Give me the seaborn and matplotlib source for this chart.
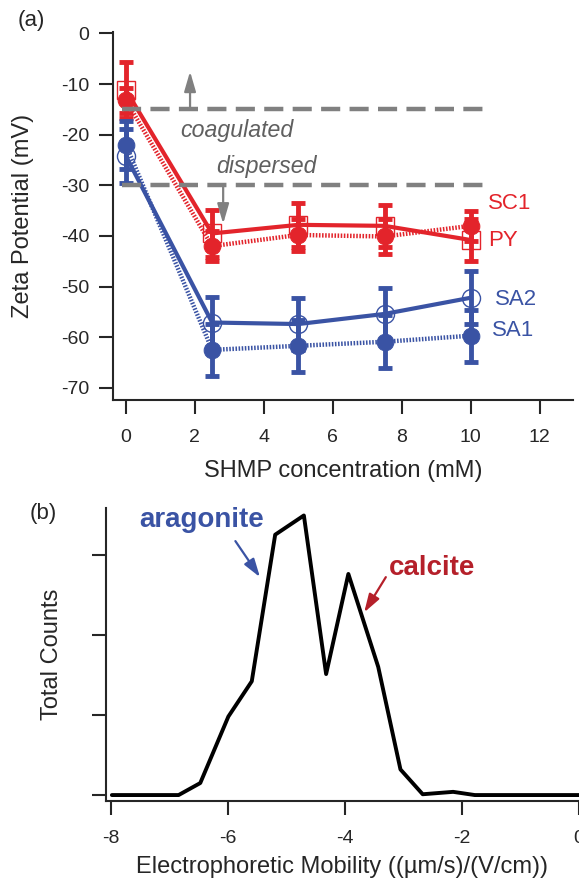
import matplotlib
matplotlib.use("Agg")
import matplotlib.pyplot as plt
import seaborn as sns

# ---------------------------------------------------------------------------
# Data
# ---------------------------------------------------------------------------
shmp_mM = [0, 2.5, 5, 7.5, 10]

sc1 = [-13.2, -42.0, -39.8, -40.1, -38.0]
sc1_err = [2.5, 2.9, 3.2, 3.5, 2.9]
py = [-11.2, -39.5, -37.8, -38.0, -40.8]
py_err = [5.5, 4.6, 4.4, 4.2, 4.1]
sa2 = [-24.2, -57.1, -57.4, -55.4, -52.2]
sa2_err = [5.3, 5.1, 5.1, 5.1, 5.2]
sa1 = [-22.0, -62.5, -61.7, -60.9, -59.7]
sa1_err = [4.8, 5.1, 5.1, 5.2, 5.1]

thresholds = [-15, -30]

mobility = [-7.98, -6.84, -6.47, -5.99, -5.59, -5.19, -4.70, -4.32,
            -3.94, -3.43, -3.05, -2.67, -2.15, -1.78, 0.0]
counts = [0.0, 0.0, 0.15, 0.98, 1.42, 3.25, 3.49, 1.51,
          2.76, 1.60, 0.32, 0.01, 0.04, 0.0, 0.0]

RED = "#e3242b"
BLUE = "#3a53a4"
GRAY = "#808080"
DARKRED = "#b5202a"

sns.set_style("ticks")
plt.rcParams["font.family"] = ["Liberation Sans", "DejaVu Sans"]
plt.rcParams["axes.linewidth"] = 1.5
plt.rcParams["axes.unicode_minus"] = False

fig = plt.figure(figsize=(5.79, 8.81), dpi=100)
fig.patch.set_facecolor("white")

# ---------------------------------------------------------------------------
# (a) zeta potential
# ---------------------------------------------------------------------------
ax = fig.add_axes([0.195, 0.546, 0.795, 0.4177])

eb = dict(fmt="none", elinewidth=3.5, capsize=5, capthick=3.5, zorder=2)
ax.errorbar(shmp_mM, py, yerr=py_err, ecolor=RED, **eb)
ax.errorbar(shmp_mM, sc1, yerr=sc1_err, ecolor=RED, **eb)
ax.errorbar(shmp_mM, sa2, yerr=sa2_err, ecolor=BLUE, **eb)
ax.errorbar(shmp_mM, sa1, yerr=sa1_err, ecolor=BLUE, **eb)

dotted = (0, (0.35, 0.35))
sns.lineplot(x=shmp_mM, y=py, color=RED, lw=3, marker="s", markersize=13,
             markerfacecolor="none", markeredgecolor=RED, markeredgewidth=1,
             ax=ax, zorder=3)
sns.lineplot(x=shmp_mM, y=sc1, color=RED, lw=3.2, linestyle=dotted, marker="o",
             markersize=12, markerfacecolor=RED, markeredgecolor=RED, ax=ax, zorder=3)
sns.lineplot(x=shmp_mM, y=sa2, color=BLUE, lw=3, marker="o", markersize=13,
             markerfacecolor="none", markeredgecolor=BLUE, markeredgewidth=1,
             ax=ax, zorder=3)
sns.lineplot(x=shmp_mM, y=sa1, color=BLUE, lw=3.2, linestyle=dotted, marker="o",
             markersize=12, markerfacecolor=BLUE, markeredgecolor=BLUE, ax=ax, zorder=3)

for yv in thresholds:
    ax.plot([-0.12, 10.47], [yv, yv], color=GRAY, lw=3.2,
            linestyle=(0, (4.3, 2.1)), zorder=5)

arrow = dict(arrowstyle="-|>,head_width=0.35,head_length=1.2", color=GRAY,
             lw=1.6, shrinkA=0, shrinkB=0)
ax.annotate("", xy=(1.86, -7.5), xytext=(1.86, -15), arrowprops=arrow, zorder=5)
ax.annotate("", xy=(2.82, -37.6), xytext=(2.82, -30), arrowprops=arrow, zorder=5)

ax.text(1.57, -19.2, "coagulated", style="italic", color="#606060",
        fontsize=16.7, va="center", ha="left")
ax.text(2.63, -26.2, "dispersed", style="italic", color="#606060",
        fontsize=16.7, va="center", ha="left")

ax.text(10.5, -33.6, "SC1", color=RED, fontsize=16, va="center")
ax.text(10.5, -40.8, "PY", color=RED, fontsize=16, va="center")
ax.text(10.7, -52.6, "SA2", color=BLUE, fontsize=16, va="center")
ax.text(10.6, -58.6, "SA1", color=BLUE, fontsize=16, va="center")

ax.set_xlim(-0.377, 12.97)
ax.set_ylim(-72.4, 0.3)
ax.set_xticks([0, 2, 4, 6, 8, 10, 12])
ax.set_yticks([0, -10, -20, -30, -40, -50, -60, -70])
ax.set_xlabel("SHMP concentration (mM)", fontsize=17, va="top")
ax.set_ylabel("Zeta Potential (mV)", fontsize=17)
ax.xaxis.set_label_coords(0.5, -0.162)
ax.yaxis.set_label_coords(-0.172, 0.5)
ax.tick_params(direction="out", length=10, width=1.5, labelsize=14)
ax.tick_params(axis="x", pad=11)
ax.tick_params(axis="y", pad=7)
sns.despine(ax=ax)
fig.text(0.031, 0.977, "(a)", fontsize=16, va="center")

# ---------------------------------------------------------------------------
# (b) electrophoretic mobility distribution
# ---------------------------------------------------------------------------
bx = fig.add_axes([0.1826, 0.0911, 0.8174, 0.332])
sns.lineplot(x=mobility, y=counts, color="black", lw=2.8, ax=bx)

bx.text(-7.52, 3.43, "aragonite", color=BLUE, fontsize=20,
        fontweight="bold", va="center", ha="left")
bx.annotate("", xy=(-5.45, 2.72), xytext=(-5.87, 3.17),
            arrowprops=dict(arrowstyle="-|>,head_width=0.35,head_length=1.1",
                            color=BLUE, lw=1.6, shrinkA=0, shrinkB=0))
bx.text(-3.24, 2.83, "calcite", color=DARKRED, fontsize=20,
        fontweight="bold", va="center", ha="left")
bx.annotate("", xy=(-3.67, 2.28), xytext=(-3.30, 2.72),
            arrowprops=dict(arrowstyle="-|>,head_width=0.35,head_length=1.1",
                            color=DARKRED, lw=1.6, shrinkA=0, shrinkB=0))

bx.set_xlim(-8.085, 0.0)
bx.set_ylim(-0.071, 3.58)
bx.set_xticks([-8, -6, -4, -2, 0])
bx.set_yticks([0, 1, 2, 3])
bx.set_yticklabels([])
bx.set_xlabel("Electrophoretic Mobility ((µm/s)/(V/cm))", fontsize=17, va="top")
bx.set_ylabel("Total Counts", fontsize=17)
bx.xaxis.set_label_coords(0.5, -0.19)
bx.yaxis.set_label_coords(-0.090, 0.5)
bx.tick_params(direction="out", length=10, width=1.5, labelsize=14)
bx.tick_params(axis="x", pad=11)
sns.despine(ax=bx)
fig.text(0.052, 0.4177, "(b)", fontsize=16, va="center")

fig.savefig("out.png", dpi=100, facecolor="white")
